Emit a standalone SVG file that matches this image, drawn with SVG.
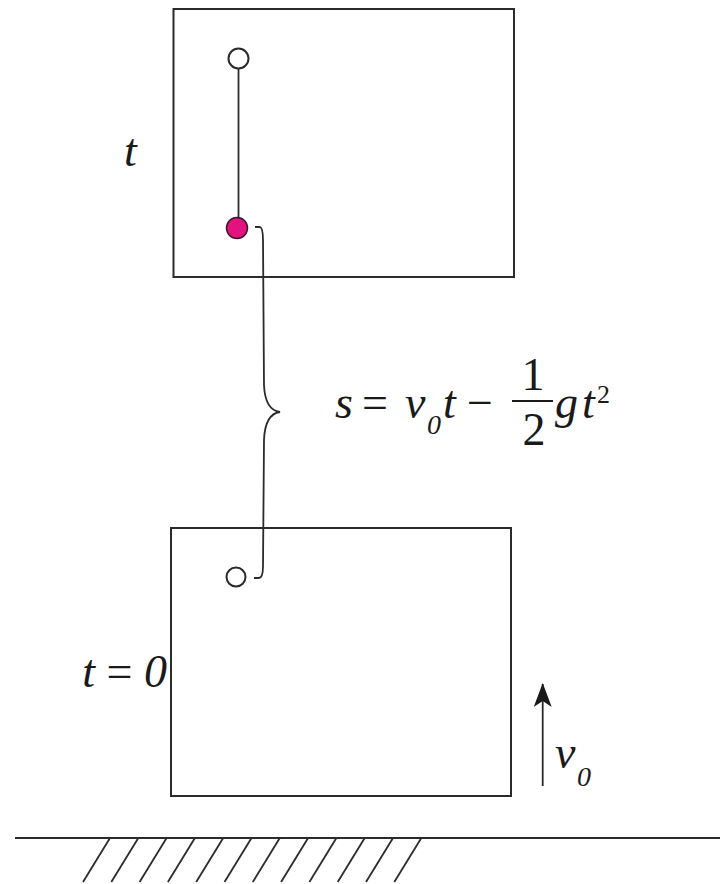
<svg xmlns="http://www.w3.org/2000/svg" width="720" height="884" viewBox="0 0 720 884">
<style>
.box{fill:none;stroke:#2b2b2b;stroke-width:2}
.ln{fill:none;stroke:#2b2b2b;stroke-width:1.8}
.it{font-family:'Liberation Serif','Times New Roman',serif;font-style:italic;fill:#1a1a1a}
.up{font-family:'Liberation Serif','Times New Roman',serif;font-style:normal;fill:#1a1a1a}
</style>
<defs>
<marker id="ah" markerWidth="24" markerHeight="18" refX="23" refY="9" orient="auto" markerUnits="userSpaceOnUse" viewBox="0 0 24 18">
<path d="M0,0 L24,9 L0,18 L6,9 Z" fill="#1a1a1a"/>
</marker>
</defs>
<rect width="720" height="884" fill="#fff"/>
<g id="box-t">
<rect class="box" x="173.5" y="9" width="340.5" height="268"/>
<line class="ln" x1="238.5" y1="69" x2="238.5" y2="218"/>
<circle cx="238.5" cy="58.5" r="10" fill="#fff" stroke="#2b2b2b" stroke-width="2"/>
<circle cx="237" cy="228" r="10.5" fill="#e2137e" stroke="#3a1a2a" stroke-width="1.5"/>
<text class="it" x="124" y="166" font-size="46">t</text>
</g>
<g id="box-0">
<rect class="box" x="171" y="528" width="340" height="268"/>
<circle cx="236" cy="577" r="9.5" fill="#fff" stroke="#2b2b2b" stroke-width="2"/>
<text class="up" x="167" y="687" font-size="46" text-anchor="end"><tspan class="it">t</tspan> = <tspan class="it">0</tspan></text>
</g>
<g id="formula">
<text class="it" x="335" y="418" font-size="46">s</text>
<text class="up" x="362" y="418" font-size="46">=</text>
<text class="it" x="405" y="418" font-size="46">v</text>
<text class="it" x="427" y="434" font-size="28">0</text>
<text class="it" x="443" y="418" font-size="46">t</text>
<text class="up" x="467" y="418" font-size="46">−</text>
<text class="up" x="533" y="390" font-size="46" text-anchor="middle">1</text>
<line x1="512" y1="401" x2="553" y2="401" stroke="#1a1a1a" stroke-width="2"/>
<text class="up" x="534" y="445" font-size="46" text-anchor="middle">2</text>
<text class="it" x="555" y="418" font-size="46">g</text>
<text class="it" x="582" y="418" font-size="46">t</text>
<text class="up" x="597" y="403" font-size="26">2</text>
</g>
<g id="velocity">
<text class="it" x="555" y="768" font-size="46">v</text>
<text class="it" x="577" y="786" font-size="28">0</text>
</g>
<g id="connectors">
<path class="ln" d="M255,227 L260,227 Q263,228 263,240 L264,385 Q265,410 280,412 Q265,414 264,440 L263,566 Q263,578 259,578 L254,578"/>
<line class="ln" x1="542.7" y1="786" x2="542.7" y2="684" marker-end="url(#ah)"/>
</g>
<g id="ground">
<line x1="15" y1="838" x2="720" y2="838" stroke="#2b2b2b" stroke-width="2.2"/>
<g class="ln">
<line x1="110" y1="838" x2="83" y2="882"/>
<line x1="138.3" y1="838" x2="111.3" y2="882"/>
<line x1="166.6" y1="838" x2="139.6" y2="882"/>
<line x1="194.9" y1="838" x2="167.9" y2="882"/>
<line x1="223.2" y1="838" x2="196.2" y2="882"/>
<line x1="251.5" y1="838" x2="224.5" y2="882"/>
<line x1="279.8" y1="838" x2="252.8" y2="882"/>
<line x1="308.1" y1="838" x2="281.1" y2="882"/>
<line x1="336.4" y1="838" x2="309.4" y2="882"/>
<line x1="364.7" y1="838" x2="337.7" y2="882"/>
<line x1="393" y1="838" x2="366" y2="882"/>
<line x1="421.3" y1="838" x2="394.3" y2="882"/>
</g>
</g>
</svg>
